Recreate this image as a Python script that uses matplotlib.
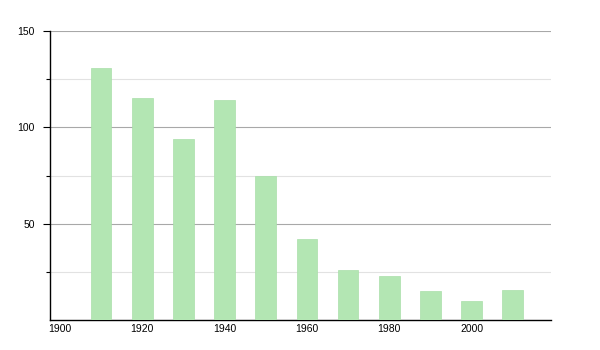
import matplotlib
matplotlib.use("Agg")
import matplotlib.pyplot as plt
from matplotlib.ticker import MultipleLocator, FixedLocator

years = [1910, 1920, 1930, 1940, 1950, 1960, 1970, 1980, 1990, 2000, 2010]
values = [131, 115, 94, 114, 75, 42, 26, 23, 15, 10, 15.6]
x_ticks = [1900, 1920, 1940, 1960, 1980, 2000]
y_major = [50, 100, 150]
y_minor = [25, 75, 125]

BAR = "#b3e6b3"
MAJOR_GRID = "#a8a8a8"
MINOR_GRID = "#e2e2e2"

plt.rcParams["font.family"] = ["Liberation Sans", "DejaVu Sans"]

fig = plt.figure(figsize=(6, 3.5), dpi=100)
ax = fig.add_axes([50 / 600, 30 / 350, 501 / 600, 289 / 350])

ax.bar(years, values, width=5, color=BAR, edgecolor="#a9dfa9", linewidth=0.5, zorder=3)

ax.set_xlim(1897.6, 2019.3)
ax.set_ylim(0, 150)
ax.xaxis.set_major_locator(FixedLocator(x_ticks))
ax.yaxis.set_major_locator(FixedLocator(y_major))
ax.yaxis.set_minor_locator(FixedLocator(y_minor))

ax.grid(axis="y", which="major", color=MAJOR_GRID, linewidth=0.8, zorder=0)
ax.grid(axis="y", which="minor", color=MINOR_GRID, linewidth=0.8, zorder=0)
ax.set_axisbelow(True)

for side in ("top", "right"):
    ax.spines[side].set_visible(False)
for side in ("left", "bottom"):
    ax.spines[side].set_color("black")
    ax.spines[side].set_linewidth(1.0)

ax.tick_params(axis="y", which="major", length=5, width=0.8, labelsize=7.5, pad=6)
ax.tick_params(axis="y", which="minor", length=3, width=0.8)
ax.tick_params(axis="x", which="major", length=0, labelsize=7.5, pad=3)

fig.savefig("out.png", dpi=100)
